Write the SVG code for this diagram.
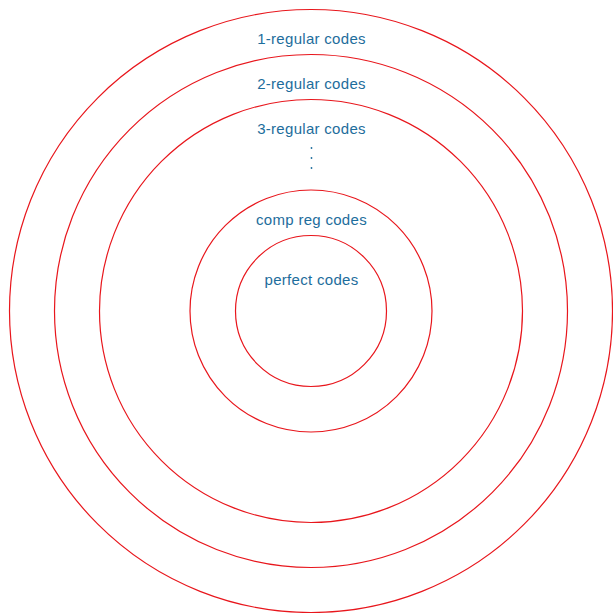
<svg xmlns="http://www.w3.org/2000/svg" width="613" height="613" viewBox="0 0 613 613">
<style>
.ring{fill:none;stroke:#e8161c;stroke-width:1.2}
.lbl{font-family:"Liberation Sans","DejaVu Sans",sans-serif;font-size:15px;letter-spacing:0.3px;fill:#1d6d9c;text-anchor:middle}
.dot{fill:#1d6d9c}
</style>
<rect width="613" height="613" fill="#ffffff"/>
<g id="ring1"><circle class="ring" cx="311" cy="311" r="301.5"/><text class="lbl" x="311.5" y="43.5">1-regular codes</text></g>
<g id="ring2"><circle class="ring" cx="311" cy="311" r="256.5"/><text class="lbl" x="311.5" y="88.5">2-regular codes</text></g>
<g id="ring3"><circle class="ring" cx="311" cy="311" r="211.5"/><text class="lbl" x="311.5" y="133.5">3-regular codes</text>
<circle class="dot" cx="311.5" cy="148" r="0.9"/><circle class="dot" cx="311.5" cy="158" r="0.9"/><circle class="dot" cx="311.5" cy="168" r="0.9"/></g>
<g id="ring4"><circle class="ring" cx="311" cy="311" r="121"/><text class="lbl" x="311.5" y="225">comp reg codes</text></g>
<g id="ring5"><circle class="ring" cx="311" cy="311" r="75.5"/><text class="lbl" x="311.5" y="284.5">perfect codes</text></g>
</svg>
